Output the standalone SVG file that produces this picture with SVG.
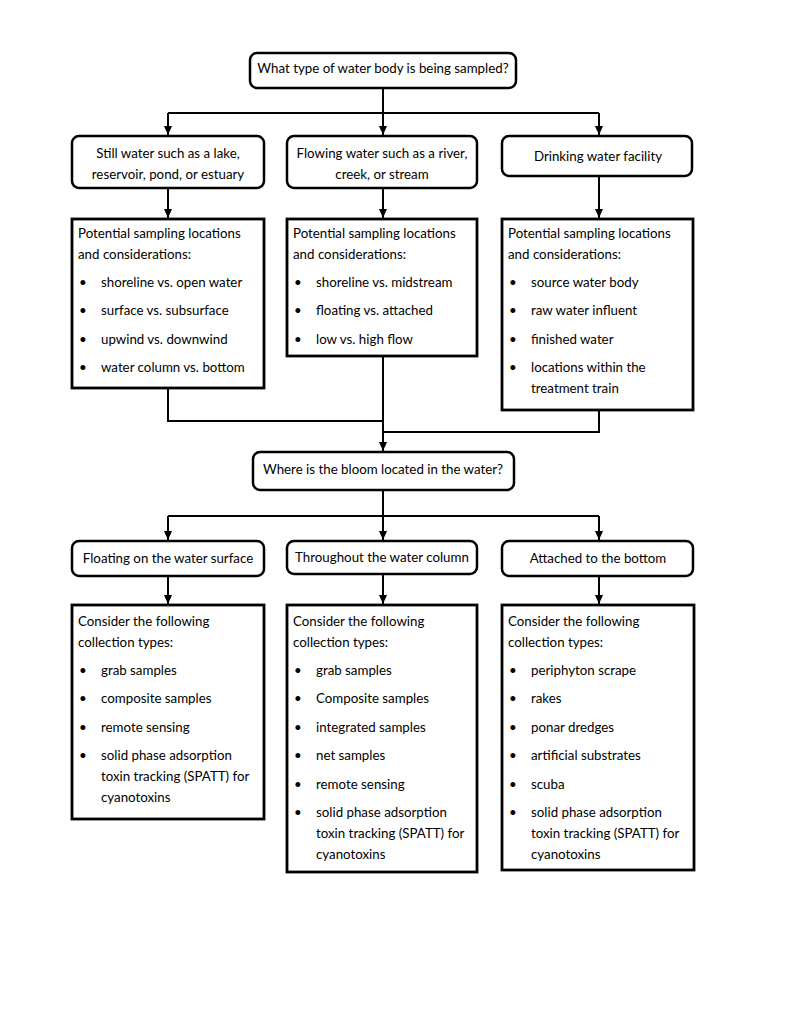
<svg xmlns="http://www.w3.org/2000/svg" width="791" height="1024" viewBox="0 0 791 1024">
<style>
text{font-family:Lato,"Liberation Sans",sans-serif;font-size:13.3px;fill:#000}
.c{text-anchor:middle}
.rb{fill:#fff;stroke:#000;stroke-width:2.5}
.sb{fill:#fff;stroke:#000;stroke-width:2.8}
.ln{fill:none;stroke:#000;stroke-width:2}
</style>
<defs>
<marker id="ah" markerWidth="9" markerHeight="8" refX="9" refY="4" orient="auto" markerUnits="userSpaceOnUse" viewBox="0 0 9 8">
<path d="M0,0 L9,4 L0,8 Z" fill="#000"/>
</marker>
</defs>
<rect width="791" height="1024" fill="#fff"/>
<g id="connectors">
<path class="ln" d="M383,88 V113 M168,113 H599"/>
<path class="ln" d="M168,113 V135" marker-end="url(#ah)"/>
<path class="ln" d="M383,113 V135" marker-end="url(#ah)"/>
<path class="ln" d="M599,113 V135" marker-end="url(#ah)"/>
<path class="ln" d="M168,188 V218" marker-end="url(#ah)"/>
<path class="ln" d="M383,188 V218" marker-end="url(#ah)"/>
<path class="ln" d="M599,176 V218" marker-end="url(#ah)"/>
<path class="ln" d="M168,388 V421 H383"/>
<path class="ln" d="M599,410 V432 H383"/>
<path class="ln" d="M383,356 V451" marker-end="url(#ah)"/>
<path class="ln" d="M383,490 V516 M168,516 H599"/>
<path class="ln" d="M168,516 V540" marker-end="url(#ah)"/>
<path class="ln" d="M383,516 V540" marker-end="url(#ah)"/>
<path class="ln" d="M599,516 V540" marker-end="url(#ah)"/>
<path class="ln" d="M168,576 V604" marker-end="url(#ah)"/>
<path class="ln" d="M383,574 V604" marker-end="url(#ah)"/>
<path class="ln" d="M599,576 V604" marker-end="url(#ah)"/>
</g>
<g id="q1">
<rect class="rb" x="250" y="53" width="266" height="35" rx="7"/>
<text class="c" x="383" y="73">What type of water body is being sampled?</text>
</g>
<g id="still">
<rect class="rb" x="72" y="136" width="192" height="52" rx="7"/>
<text class="c" x="168" y="158">Still water such as a lake,</text>
<text class="c" x="168" y="179">reservoir, pond, or estuary</text>
</g>
<g id="flowing">
<rect class="rb" x="287" y="136" width="190" height="52" rx="7"/>
<text class="c" x="382" y="158">Flowing water such as a river,</text>
<text class="c" x="382" y="179">creek, or stream</text>
</g>
<g id="drinking">
<rect class="rb" x="502" y="136" width="190" height="40" rx="7"/>
<text class="c" x="598" y="161">Drinking water facility</text>
</g>
<g id="loc-still">
<rect class="sb" x="72" y="219" width="192" height="169"/>
<text x="78" y="238">Potential sampling locations</text>
<text x="78" y="259">and considerations:</text>
<text x="79" y="287">•</text><text x="101" y="287">shoreline vs. open water</text>
<text x="79" y="315">•</text><text x="101" y="315">surface vs. subsurface</text>
<text x="79" y="344">•</text><text x="101" y="344">upwind vs. downwind</text>
<text x="79" y="372">•</text><text x="101" y="372">water column vs. bottom</text>
</g>
<g id="loc-flowing">
<rect class="sb" x="287" y="219" width="190" height="137"/>
<text x="293" y="238">Potential sampling locations</text>
<text x="293" y="259">and considerations:</text>
<text x="294" y="287">•</text><text x="316" y="287">shoreline vs. midstream</text>
<text x="294" y="315">•</text><text x="316" y="315">floating vs. attached</text>
<text x="294" y="344">•</text><text x="316" y="344">low vs. high flow</text>
</g>
<g id="loc-drinking">
<rect class="sb" x="502" y="219" width="191" height="191"/>
<text x="508" y="238">Potential sampling locations</text>
<text x="508" y="259">and considerations:</text>
<text x="509" y="287">•</text><text x="531" y="287">source water body</text>
<text x="509" y="315">•</text><text x="531" y="315">raw water influent</text>
<text x="509" y="344">•</text><text x="531" y="344">finished water</text>
<text x="509" y="372">•</text><text x="531" y="372">locations within the</text>
<text x="531" y="393">treatment train</text>
</g>
<g id="q2">
<rect class="rb" x="253" y="452" width="261" height="38" rx="7"/>
<text class="c" x="383" y="474">Where is the bloom located in the water?</text>
</g>
<g id="floating">
<rect class="rb" x="72" y="541" width="192" height="35" rx="7"/>
<text class="c" x="168" y="563">Floating on the water surface</text>
</g>
<g id="throughout">
<rect class="rb" x="287" y="541" width="190" height="33" rx="7"/>
<text class="c" x="382" y="562">Throughout the water column</text>
</g>
<g id="attached">
<rect class="rb" x="502" y="541" width="191" height="35" rx="7"/>
<text class="c" x="598" y="563">Attached to the bottom</text>
</g>
<g id="col-floating">
<rect class="sb" x="72" y="605" width="192" height="214"/>
<text x="78" y="626">Consider the following</text>
<text x="78" y="647">collection types:</text>
<text x="79" y="675">•</text><text x="101" y="675">grab samples</text>
<text x="79" y="703">•</text><text x="101" y="703">composite samples</text>
<text x="79" y="732">•</text><text x="101" y="732">remote sensing</text>
<text x="79" y="760">•</text><text x="101" y="760">solid phase adsorption</text>
<text x="101" y="781">toxin tracking (SPATT) for</text>
<text x="101" y="802">cyanotoxins</text>
</g>
<g id="col-throughout">
<rect class="sb" x="287" y="605" width="190" height="267"/>
<text x="293" y="626">Consider the following</text>
<text x="293" y="647">collection types:</text>
<text x="294" y="675">•</text><text x="316" y="675">grab samples</text>
<text x="294" y="703">•</text><text x="316" y="703">Composite samples</text>
<text x="294" y="732">•</text><text x="316" y="732">integrated samples</text>
<text x="294" y="760">•</text><text x="316" y="760">net samples</text>
<text x="294" y="789">•</text><text x="316" y="789">remote sensing</text>
<text x="294" y="817">•</text><text x="316" y="817">solid phase adsorption</text>
<text x="316" y="838">toxin tracking (SPATT) for</text>
<text x="316" y="859">cyanotoxins</text>
</g>
<g id="col-attached">
<rect class="sb" x="502" y="605" width="192" height="265"/>
<text x="508" y="626">Consider the following</text>
<text x="508" y="647">collection types:</text>
<text x="509" y="675">•</text><text x="531" y="675">periphyton scrape</text>
<text x="509" y="703">•</text><text x="531" y="703">rakes</text>
<text x="509" y="732">•</text><text x="531" y="732">ponar dredges</text>
<text x="509" y="760">•</text><text x="531" y="760">artificial substrates</text>
<text x="509" y="789">•</text><text x="531" y="789">scuba</text>
<text x="509" y="817">•</text><text x="531" y="817">solid phase adsorption</text>
<text x="531" y="838">toxin tracking (SPATT) for</text>
<text x="531" y="859">cyanotoxins</text>
</g>
</svg>
